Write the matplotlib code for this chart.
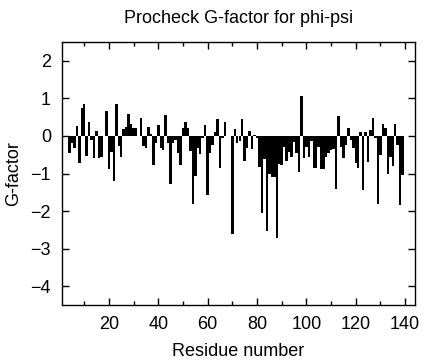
import matplotlib
matplotlib.use("Agg")
import matplotlib.pyplot as plt
from matplotlib.ticker import MultipleLocator

# residue numbers and G-factor values (residues 1-3 not scored)
residues = list(range(4, 140))
gfactor = [
    -0.46, -0.20, -0.33, 0.26, -0.71, 0.74, 0.85, -0.54, 0.36, -0.12,   # 4-13
    -0.60, 0.12, -0.58, -0.57, 0.00, 0.66, -0.89, -0.42, -1.21, 0.85,   # 14-23
    -0.27, -0.55, 0.18, 0.25, 0.58, 0.32, 0.22, 0.22, 0.00, 0.48,       # 24-33
    -0.27, -0.31, 0.24, 0.06, -0.77, -0.20, 0.30, -0.33, -0.37, 0.57,   # 34-43
    -0.18, -1.28, -0.18, -0.12, -0.45, -0.77, 0.21, 0.37, 0.21, -0.40,  # 44-53
    -1.81, -1.06, -0.32, -0.49, -0.05, 0.28, -1.56, -0.45, -0.25, 0.10, # 54-63
    0.45, -0.85, -0.05, 0.36, 0.00, 0.00, -2.60, 0.19, -0.18, -0.14,    # 64-73
    0.46, -0.67, -0.32, 0.14, -0.36, 0.03, -0.05, -0.84, -2.05, -0.62,  # 74-83
    -2.53, -1.00, -1.10, -1.10, -2.72, -0.75, -0.77, -0.30, -0.68, -0.42,  # 84-93
    -0.55, -0.16, -0.45, -0.97, 1.07, -0.60, -0.29, -0.57, -0.13, -0.86,   # 94-103
    -0.86, -0.29, -0.88, -0.88, -0.55, -0.46, -0.38, -0.35, -1.40, 0.52,   # 104-113
    -0.29, -0.60, -0.25, 0.22, -0.11, -0.33, -0.71, -0.86, 0.10, -1.45,    # 114-123
    0.10, -0.70, 0.15, 0.47, -0.05, -1.82, -0.50, 0.32, 0.20, -1.00,       # 124-133
    -0.55, -0.80, 0.32, -0.25, -1.85, -1.04,                                # 134-139
]

plt.rcParams['font.family'] = ['Liberation Sans', 'DejaVu Sans']
plt.rcParams['font.size'] = 13

fig = plt.figure(figsize=(4.24, 3.6), dpi=100)
ax = fig.add_axes([62/424, 55/360, 353/424, 263/360])

ax.bar(residues, gfactor, width=1.0, color='black', linewidth=0)

ax.set_xlim(1, 144)
ax.set_ylim(-4.5, 2.5)
ax.xaxis.set_major_locator(MultipleLocator(20))
ax.xaxis.set_minor_locator(MultipleLocator(10))
ax.yaxis.set_major_locator(MultipleLocator(1))

ax.tick_params(which='both', direction='in', top=True, right=True, width=1)
ax.tick_params(which='major', length=5)
ax.tick_params(which='minor', length=3)
ax.tick_params(axis='x', pad=8)
ax.tick_params(axis='y', pad=8)
for s in ax.spines.values():
    s.set_linewidth(1)

ax.set_title('Procheck G-factor for phi-psi', fontsize=13, pad=14)
ax.set_xlabel('Residue number', labelpad=7)
ax.set_ylabel('G-factor', labelpad=6)

fig.savefig('out.png', dpi=100)
